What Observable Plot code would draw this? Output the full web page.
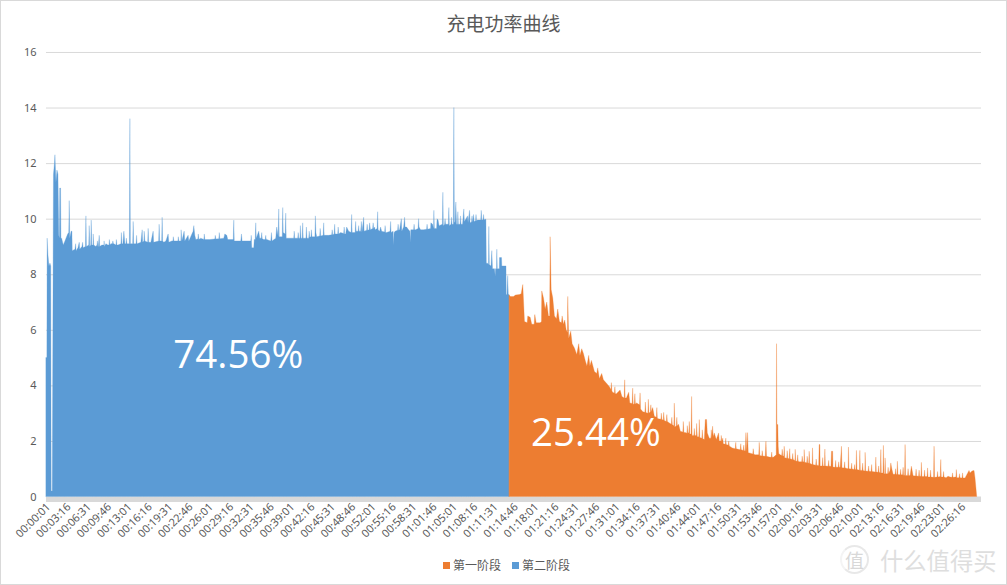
<!DOCTYPE html>
<html>
<head>
<meta charset="utf-8">
<script src="https://cdn.jsdelivr.net/npm/d3@7"></script>
<script src="https://cdn.jsdelivr.net/npm/@observablehq/plot@0.6"></script>
<style>
html,body{margin:0;padding:0;background:#fff;}
#wrap{position:relative;width:1007px;height:585px;box-sizing:border-box;border:1px solid #d9d9d9;overflow:hidden;font-family:"Noto Sans CJK SC","Noto Sans",sans-serif;color:#595959;}
#title{position:absolute;left:0;right:0;top:10px;text-align:center;font-size:19px;line-height:24px;}
#chart{position:absolute;left:-1px;top:28px;}
#legend{position:absolute;left:442px;top:555px;font-size:12px;line-height:17px;white-space:nowrap;}
#legend i{display:inline-block;width:7px;height:7px;margin-right:3px;vertical-align:1px;}
#legend span{margin-right:11px;}
#mark{position:absolute;left:879px;top:543px;font-size:23.3px;line-height:32px;color:#dedede;white-space:nowrap;}
#logo{position:absolute;left:839px;top:544px;width:29px;height:29px;border-radius:50%;border:2px solid #e8e8e8;box-sizing:border-box;border-left-color:#f4f4f4;font-size:19px;line-height:25px;text-align:center;color:#d8d8d8;}
</style>
</head>
<body>
<div id="wrap">
<div id="title">充电功率曲线</div>
<div id="chart"></div>
<div id="legend"><span><i style="background:#ed7d31"></i>第一阶段</span><span><i style="background:#5b9bd5"></i>第二阶段</span></div>
<div id="logo">值</div>
<div id="mark">什么值得买</div>
</div>
<script>
const secondsPerSample = 9.58;
const tickLabels = ["00:00:01","00:03:16","00:06:31","00:09:46","00:13:01","00:16:16","00:19:31","00:22:46","00:26:01","00:29:16","00:32:31","00:35:46","00:39:01","00:42:16","00:45:31","00:48:46","00:52:01","00:55:16","00:58:31","01:01:46","01:05:01","01:08:16","01:11:31","01:14:46","01:18:01","01:21:16","01:24:31","01:27:46","01:31:01","01:34:16","01:37:31","01:40:46","01:44:01","01:47:16","01:50:31","01:53:46","01:57:01","02:00:16","02:03:31","02:06:46","02:10:01","02:13:16","02:16:31","02:19:46","02:23:01","02:26:16"];
const yTicks = [0,2,4,6,8,10,12,14,16];
// [sample number, power]
const phase2 = [[0,5],[0.9,5],[1.2,9.3],[2,8.7],[3,8.3],[4,8.4],[4.8,8.3],[5.2,0.2],[6.3,0.2],[7.5,11.6],[8.5,12],[9,12.3],[10,11.3],[11,11.75],[12,11.6],[12.8,9.4],[13.5,9.3],[13.8,11.1],[14.6,11.1],[15,9.3],
[15.7,9.3],[17.3,9.05],[19,9.2],[21.7,9.45],[22.8,9.5],[23.3,10.65],[23.8,9.3],[25.2,9.55],[26,9.55],[26.3,8.85],[29,8.9],[29.7,9.1],[30.2,8.85],[32,8.95],[33.3,9.15],[33.8,8.9],[36,9],[36.7,9.15],[37.2,8.95],[39.5,9],[40,10.1],[40.5,9],[42.8,9.05],[43.3,9.75],[43.8,9],[44.8,9.05],[45.3,9.95],[45.8,9.05],[47,9.05],[47.3,9.45],[47.8,9.05],[50,9],[52,9],[53.3,9.4],[53.8,9],[56,9.05],[58,9.05],[60,9.1],[62,9.05],[65,9.1],[68,9.1],[72,9.05],[75,9.1],[75.5,9.5],[76,9.1],[77,9.1],[78,9.55],[79,9.1],[80,9.1],[80.5,9.3],[81,9.1],[83.5,9.1],[84,13.6],[84.5,9.1],[86.8,9.1],[87.3,9.9],[87.8,9.1],[90.2,9.1],[90.7,9.4],[91.2,9.1],[95,9.15],[96.3,9.6],[96.8,9.15],[98,9.2],[98.3,9.55],[99,9.2],[101.8,9.15],[102.3,9.65],[102.8,9.15],[105,9.15],[107.3,9.55],[107.8,9.15],[112.8,9.2],[113.3,9.8],[113.8,9.2],[115.8,9.2],[116.3,10.05],[116.8,9.2],[118,9.15],[120,9.2],[122.3,9.45],[123,9.15],[126,9.2],[130,9.2],[135,9.2],[135.3,9.6],[136,9.2],[138.3,9.55],[139,9.2],[142.3,9.4],[143,9.2],[147.3,9.55],[148,9.75],[149,9.4],[150,9.25],[155,9.3],
[164,9.25],[178,9.3],[179,9.45],[181,9.4],[182,9.25],[187.5,9.25],[188,9.95],[188.5,9.2],[195,9.2],[195.7,9.45],[196.3,9.2],[199,9.2],[205,9.2],[205.5,9.4],[206,8.95],[208,8.95],[208.5,9.25],[209.5,9.25],[210,9.85],[210.5,9.3],[212,9.45],[213,9.55],[214,9.3],[218,9.25],[221,9.25],[225,9.2],[225.7,9.5],[226.3,9.2],[230,9.3],[231,9.7],[232.5,9.35],[233,10.35],[233.5,9.35],[236.5,9.35],[237,10.4],[237.5,9.5],[239.5,9.45],[240,10.2],[240.5,9.3],[245,9.3],[250,9.3],[254.2,9.3],[254.7,9.75],[255.2,9.3],[256.5,9.3],[257,9.85],[257.5,9.3],[260.2,9.3],[260.7,9.7],[261.2,9.3],[265.2,9.35],[265.7,9.6],[266.2,9.35],[269.2,9.35],[269.7,10.1],[270.2,9.5],[271,9.35],[277.5,9.4],[278,9.85],[278.5,9.4],[283,9.4],[288.5,9.45],[289,9.8],[289.5,9.45],[295,9.5],[300,9.45],[301,9.7],[303,9.55],[305.5,9.5],[306,10.15],[306.5,9.5],[309.5,9.5],[310,9.9],[310.5,9.55],[315,9.55],[315.7,9.9],[316.3,9.5],[318,10.05],[318.5,9.55],[323.5,9.6],[324,9.85],[324.8,9.6],[329,9.7],[329.5,9.6],[331.5,9.65],[332,10.25],[332.5,9.6],
[334,9.55],[335,9.7],[336,9.55],[341,9.5],[344.5,9.55],[345,9.9],[345.5,9.5],[347.5,9.55],[348,9.05],[348.5,9.5],[349.5,9.55],[354,9.6],[355.7,10],[356.2,9.55],[358,9.7],[359,10.05],[359.5,9.7],[361,9.7],[363,9.6],[364.3,9.55],[364.7,9.15],[365.2,9.6],[370,9.6],[372.5,9.65],[373,10],[373.5,9.7],[375,9.6],[378,9.6],[385,9.65],[385.3,9.85],[387,9.8],[388,9.65],[388.3,10.3],[388.8,9.65],[391,9.65],[391.5,10],[392.5,9.95],[393.5,9.75],[396.8,9.8],[397.3,10.95],[397.8,9.75],[402.8,9.8],[403.3,10.4],[403.8,9.75],[407.8,9.8],[408.3,14],[408.8,9.9],[409.5,9.85],[410.3,10.6],[411,9.8],[412,9.8],[412.3,10.25],[412.8,9.8],[417,9.8],[418.3,10.35],[418.8,9.9],[420.5,10],[422,10.1],[422.5,9.85],[424,10.3],[424.5,9.85],[427,9.9],[428,10.15],[428.5,9.9],[432,9.95],[435.2,9.95],[435.7,10.3],[436.2,9.95],[440,9.98],[440.4,9.98],[440.8,8.4],[442,8.4],[443,8.35],[443.3,9.72],[443.8,8.35],[445.5,8.3],[446.3,8.85],[447,8.2],[449,8.2],[449.7,7.93],[450,8.2],[451,8.2],[451.3,8.9],[451.8,8.2],[453.8,8.2],[454,8.6],[456,8.6],[456.3,8.3],[460.5,8.3],[460.7,7.27],[461.5,7.27],[462.2,7.95],[462.8,7.27],[463.6,7.27]];
const phase2Teeth = [[51,9.05],[51.5,9.2],[52.4,9],[57.5,9.05],[58.2,9.2],[58.5,9],[63,9.05],[63.5,9.25],[64,9.05],[66.5,9.1],[67,9.2],[67.5,9.1],[70,9.05],[70.5,9.25],[71,9.05],[127,9.2],[127.5,9.35],[128,9.2],[132,9.2],[132.5,9.35],[133,9.2],[152,9.27],[152.5,9.45],[153,9.25],[158,9.25],[158.5,9.45],[159,9.25],[169,9.27],[169.5,9.4],[170,9.27],[173,9.28],[173.5,9.5],[174,9.28],[215.5,9.3],[216,9.5],[216.5,9.28],[219.5,9.25],[220,9.4],[220.5,9.25],[248,9.3],[248.5,9.55],[249,9.3],[252,9.3],[252.5,9.5],[253,9.3],[263,9.3],[263.5,9.55],[264,9.33],[274,9.38],[274.5,9.65],[275,9.38],[286,9.42],[286.5,9.6],[287,9.42],[292,9.45],[292.5,9.7],[293,9.45],[298,9.47],[298.5,9.7],[299,9.45],[312.5,9.55],[313,9.75],[313.5,9.55],[321,9.58],[321.5,9.8],[322,9.58],[327,9.65],[327.5,9.85],[328,9.65],[339,9.52],[339.5,9.75],[340,9.5],[352,9.58],[352.5,9.8],[353,9.58],[368,9.6],[368.5,9.8],[369,9.6],[381,9.62],[381.5,9.8],[382,9.62],[399,9.8],[399.5,10],[400,9.8],[405.5,9.8],[406,10.05],[406.5,9.8],[414.5,9.8],[415,10.1],[415.5,9.8],[426,9.88],[426.5,10.1],[426.8,9.88],[430,9.93],[430.5,10.15],[431,9.93],[437.5,9.96],[438,10.15],[438.5,9.96]];
const phase1 = [[463.6,7.25],[465,7.2],[468,7.2],[470,7.25],[474,7.27],[475.7,7.3],[477.3,7.63],[479,6.3],[481.7,6.25],[482.3,6.5],[484.7,6.45],[486.3,6.2],[488.7,6.2],[489.3,6.55],[490.7,6.25],[494.7,6.25],[496,6.3],[496.3,7.4],[498,7.15],[499.7,6.75],[501.3,7],[503,6.5],[504.2,6.5],[504.7,9.35],[505.7,7.45],[507.3,7.15],[509,6.5],[511,6.4],[512.3,6.75],[514,6.3],[516,6.25],[516.7,6.5],[518,6.2],[519.3,6.35],[520.7,6],[522,5.9],[522.3,7.2],[523.3,5.7],[525.3,5.95],[526.7,5.5],[529,5.35],[531.3,5.11],[533.3,5.5],[534.5,5.08],[536.3,5.32],[538,5.15],[540,4.87],[541.5,4.7],[543.3,5.08],[544.5,4.7],[546,4.9],[549,4.5],[551.3,4.43],[552.3,4.63],[554,4.25],[556.3,4.43],[558,4.2],[561.3,4.07],[564,3.95],[567.3,3.75],[571,3.7],[574.7,3.83],[576.5,3.6],[578.8,3.55],[579.3,4.2],[579.8,3.55],[581,3.55],[583.3,3.75],[584.5,3.37],[586.8,3.35],[587.3,3.9],[587.8,3.31],[591.3,3.37],[594.2,3.3],[594.7,3.73],[595.2,3.15],[597.5,3.05],[602.5,3],[603,3.5],[603.5,3],[607.3,3.2],[609,2.89],[613,2.8],[618,2.75],[618.3,3.03],[619,2.74],[624,2.65],[628.5,2.55],[629,3.36],[629.5,2.5],[633.3,2.6],[635,2.35],[640,2.3],[643.5,2.3],[644,2.7],[644.5,2.25],[645.8,2.25],[646.3,3.6],[646.8,2.2],[651,2.2],[651.3,2.63],[652,2.15],[653.5,2.15],[654,2.77],[654.5,2.12],[659,2.05],[660,2.77],[661.3,2.77],[662,2.29],[664,2.1],[667.3,2.53],[668,2.15],[669,2.29],[671,2.05],[673.3,2.29],[674,2],[677.5,2.1],[678,1.9],[687,1.75],[700,1.65],[700.7,2.3],[701.5,1.6],[702.3,2.3],[703,1.58],[706,1.55],[710,1.5],[713.5,1.5],[714,1.95],[714.5,1.48],[720,1.45],[720.7,1.99],[721.3,1.45],[724,1.42],[728,1.41],[731,1.5],[731.3,5.5],[731.7,2.59],[732.6,2.59],[733,1.8],[733.5,1.55],[735,1.5],[738.5,1.45],[739,1.81],[739.5,1.4],[744,1.36],[744.5,1.72],[745,1.36],[749.7,1.3],[750,1.7],[750.5,1.28],[754,1.25],[758.7,1.25],[759,1.69],[759.5,1.23],[763.5,1.2],[764,1.63],[764.5,1.2],[767,1.15],[767.3,1.75],[767.8,1.15],[773.5,1.12],[774,1.87],[774.7,1.87],[775,1.1],[779.3,1.1],[779.7,1.71],[780.2,1.1],[785.8,1.09],[786.3,1.63],[787.5,1.63],[787.8,1.06],[795,1.05],[796.3,1.81],[796.8,1.04],[803,1],[803.3,1.78],[803.8,1],[810.8,0.97],[811.3,1.66],[811.8,0.97],[814.3,0.95],[814.7,1.66],[815.2,0.95],[819.7,0.92],[820,1.59],[820.5,0.92],[830.3,0.88],[830.7,1.42],[831.2,0.88],[835.2,0.86],[835.7,1.69],[836.2,0.85],[837.8,0.85],[838.3,1.84],[838.8,0.82],[839.6,0.82],[840,1.39],[840.5,0.82],[845,0.95],[845.7,1.21],[846.7,1],[848,0.8],[851.8,0.79],[852.3,1.27],[852.8,0.79],[859.5,0.77],[860,1.87],[860.5,0.76],[865,0.76],[866.3,1.09],[868,0.75],[875.8,0.73],[876.3,1.23],[876.8,0.72],[882,0.72],[882.5,1.03],[883,0.7],[888.5,0.69],[889,1.81],[889.5,0.69],[895.2,0.72],[895.7,1.33],[896.2,0.7],[901,0.68],[903,0.73],[905,0.7],[910.8,0.7],[911.3,0.97],[911.8,0.68],[920,0.67],[924,0.94],[925,0.85],[927,0.92],[929,0.94],[930,0.67],[931.7,0]];
const phase1Teeth = [[565.5,3.85],[566,4.1],[566.5,3.8],[569,3.72],[569.5,3.95],[570,3.7],[589,3.35],[589.5,3.7],[590,3.33],[599.5,3.03],[600,3.4],[600.5,3.02],[605,3.05],[605.5,3.3],[606,3.05],[611,2.85],[611.5,3.2],[612,2.82],[615.5,2.78],[616,3],[616.5,2.77],[621,2.7],[621.5,2.95],[622,2.7],[626,2.6],[626.5,2.85],[627,2.58],[631,2.55],[631.5,2.85],[632,2.55],[637.5,2.32],[638,2.7],[638.5,2.3],[641.5,2.28],[642,2.55],[642.5,2.28],[648.5,2.2],[649,2.45],[649.5,2.2],[656.5,2.1],[657,2.4],[657.5,2.08],[665.5,2.1],[666,2.4],[666.5,2.1],[675.5,2],[676,2.2],[676.5,1.98],[680,1.88],[680.5,2.1],[681,1.87],[683,1.85],[683.5,2],[684,1.82],[690,1.72],[690.5,1.95],[691,1.72],[695,1.68],[695.5,1.9],[696,1.68],[698,1.66],[698.5,1.85],[699,1.65],[707.5,1.53],[708,1.72],[708.5,1.52],[716.5,1.46],[717,1.65],[717.5,1.46],[726,1.41],[726.5,1.6],[727,1.41],[736.5,1.48],[737,1.7],[737.5,1.47],[741.5,1.38],[742,1.65],[742.5,1.38],[747,1.33],[747.5,1.55],[748,1.33],[752,1.27],[752.5,1.5],[753,1.27],[756.5,1.25],[757,1.45],[757.5,1.25],[761.5,1.22],[762,1.45],[762.5,1.22],[770.5,1.13],[771,1.35],[771.5,1.13],[777,1.1],[777.5,1.4],[778,1.1],[783,1.09],[783.5,1.3],[784,1.09],[790,1.05],[790.5,1.3],[791,1.05],[793,1.05],[793.5,1.25],[794,1.05],[799,1.03],[799.5,1.25],[800,1.03],[806,0.99],[806.5,1.2],[807,0.99],[809,0.97],[809.5,1.15],[810,0.97],[817,0.94],[817.5,1.2],[818,0.94],[823,0.91],[823.5,1.1],[824,0.91],[826,0.9],[826.5,1.15],[827,0.9],[833,0.87],[833.5,1.1],[834,0.87],[842.5,0.82],[843,1.05],[843.5,0.82],[850,0.8],[850.5,1],[851,0.8],[855,0.78],[855.5,0.98],[856,0.78],[857.5,0.78],[858,1.05],[858.5,0.77],[862.5,0.76],[863,1],[863.5,0.76],[870.5,0.74],[871,0.98],[871.5,0.74],[873.5,0.73],[874,0.95],[874.5,0.73],[879,0.72],[879.5,0.95],[880,0.72],[885,0.7],[885.5,0.95],[886,0.7],[892,0.7],[892.5,0.9],[893,0.7],[898,0.7],[898.5,0.9],[899,0.7],[907,0.69],[907.5,0.85],[908,0.69],[914,0.68],[914.5,0.82],[915,0.68],[917,0.67],[917.5,0.85],[918,0.67]];
const shareLabels = [
  {sample:192, power:5.07, text:"74.56%"},
  {sample:550, power:2.27, text:"25.44%"}
];
const bySample = (a,b) => a[0]-b[0];
const series2 = phase2.concat(phase2Teeth).sort(bySample);
const series1 = phase1.concat(phase1Teeth).sort(bySample);
const secondsOf = s => { const [h,m,c] = s.split(":").map(Number); return h*3600+m*60+c; };
const tickSeconds = tickLabels.map(secondsOf);
const labelOf = new Map(tickSeconds.map((t,i)=>[t,tickLabels[i]]));
const chart = Plot.plot({
  width: 1007, height: 526,
  marginLeft: 46, marginRight: 25, marginTop: 23, marginBottom: 58,
  style: {background:"transparent", fontFamily:"'Noto Sans','Noto Sans CJK SC',sans-serif", color:"#595959", overflow:"visible"},
  x: {domain:[0,936*secondsPerSample]},
  y: {domain:[0,16]},
  marks: [
    Plot.gridY(yTicks,{stroke:"#d9d9d9",strokeOpacity:1,strokeWidth:1}),
    Plot.ruleY([0],{stroke:"#d9d9d9",strokeWidth:5,dy:2.5}),
    Plot.area(series2,{x1:d=>d[0]*secondsPerSample,y1:0,y2:d=>d[1],fill:"#5b9bd5",stroke:"#5b9bd5",strokeWidth:0.3}),
    Plot.area(series1,{x1:d=>d[0]*secondsPerSample,y1:0,y2:d=>d[1],fill:"#ed7d31",stroke:"#ed7d31",strokeWidth:0.3}),
    Plot.text(shareLabels,{x:d=>d.sample*secondsPerSample,y:"power",text:"text",fill:"white",fontSize:38.5,fontFamily:"'Open Sans',sans-serif"}),
    Plot.axisY({ticks:yTicks,tickSize:0,tickPadding:10,fontSize:11,label:null,color:"#595959"}),
    Plot.axisX({ticks:tickSeconds,tickFormat:t=>labelOf.get(t),tickSize:0,tickRotate:-45,tickPadding:8,fontSize:11,label:null,color:"#595959",textAnchor:"end",dx:2})
  ]
});
document.getElementById("chart").appendChild(chart);
</script>
</body>
</html>
